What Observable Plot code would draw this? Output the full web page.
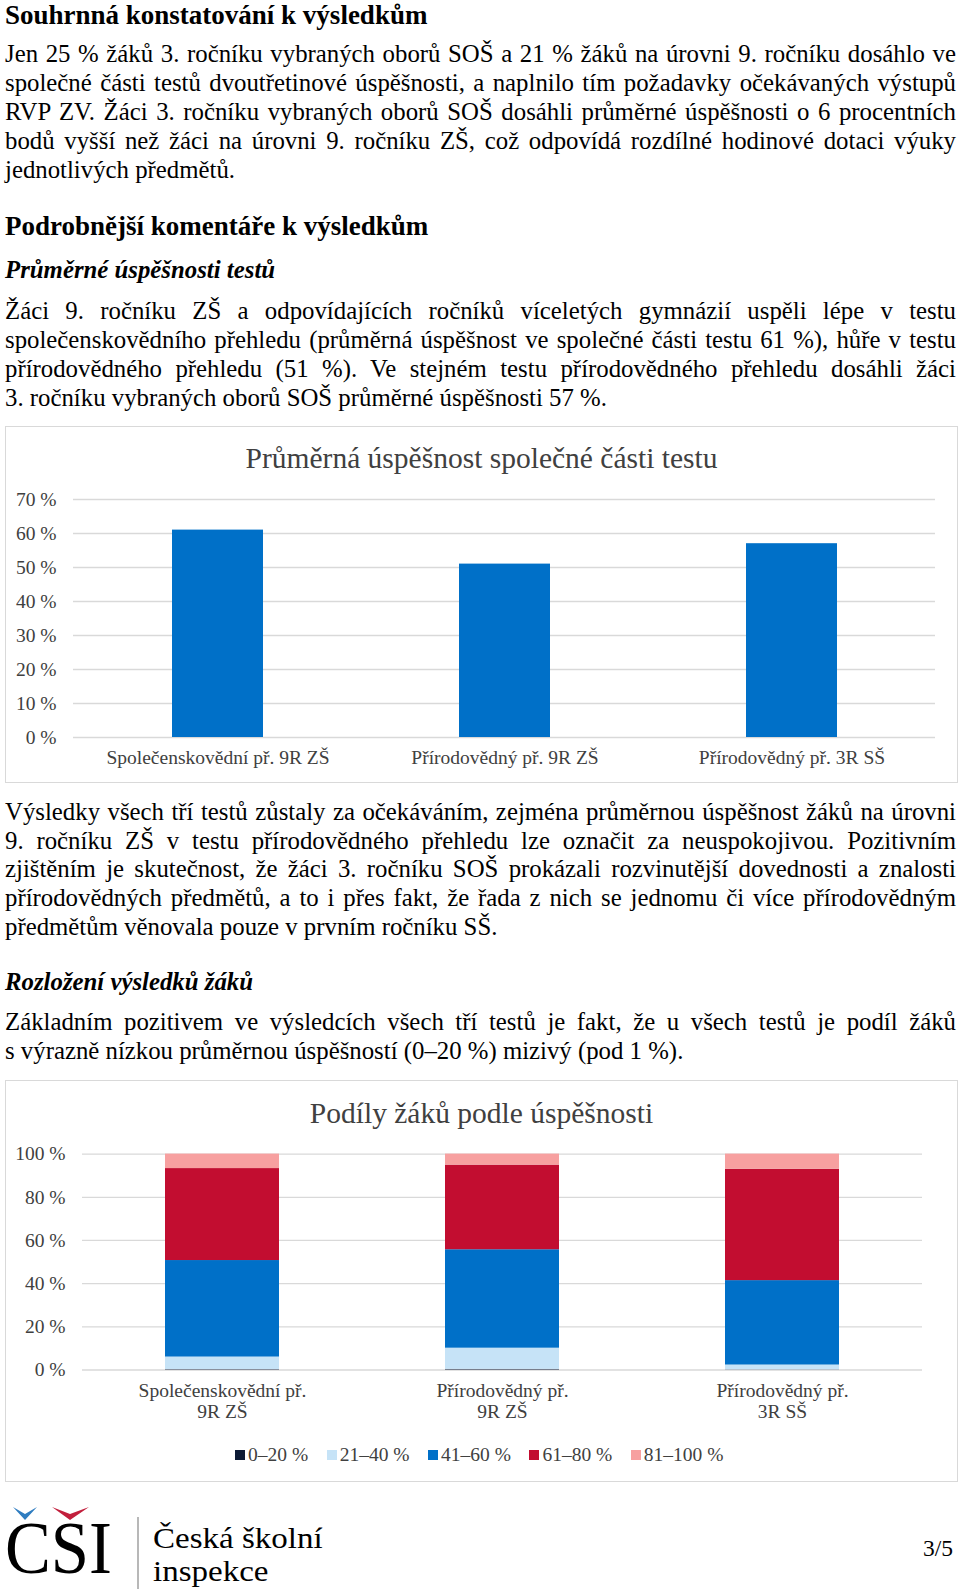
<!DOCTYPE html>
<html>
<head>
<meta charset="utf-8">
<script src="https://cdn.jsdelivr.net/npm/d3@7"></script>
<script src="https://cdn.jsdelivr.net/npm/@observablehq/plot@0.6"></script>
<style>
  html, body { margin: 0; padding: 0; background: #fff; }
  #page { position: relative; width: 960px; height: 1589px; overflow: hidden; font-family: "Liberation Serif", "Times New Roman", serif; color: #000; }
  .ln { position: absolute; white-space: nowrap; }
  .just { text-align: justify; text-align-last: justify; white-space: normal; }
  .box { position: absolute; border: 1px solid #d9d9d9; box-sizing: border-box; }
  .ctitle { position: absolute; left: 0; right: 0; text-align: center; font-size: 29.5px; color: #404040; }
  .plot { position: absolute; }
  .legend { position: absolute; display: flex; align-items: center; font-size: 19.5px; color: #404040; }
  .legend .it { display: flex; align-items: center; margin-right: 18.5px; }
  .legend .sw { width: 10px; height: 10px; margin-right: 3px; }
  .inst { position: absolute; left: 153px; top: 1521px; font-size: 30px; line-height: 33.4px; white-space: nowrap; transform: scaleX(1.1); transform-origin: 0 0; }
</style>
</head>
<body>
<div id="page"></div>
<script>
// ---------- DATA ----------
const cats1 = ["Společenskovědní př. 9R ZŠ", "Přírodovědný př. 9R ZŠ", "Přírodovědný př. 3R SŠ"];
const avgSuccess = [61, 51, 57];
const yTicks1 = [0, 10, 20, 30, 40, 50, 60, 70];

const cats2 = ["Společenskovědní př.\n9R ZŠ", "Přírodovědný př.\n9R ZŠ", "Přírodovědný př.\n3R SŠ"];
const bands = ["0–20 %", "21–40 %", "41–60 %", "61–80 %", "81–100 %"];
const bandColors = ["#0d1b36", "#c6e3f7", "#0070c8", "#c20d30", "#f7a0a0"];
const share0_20   = [0.2, 0.3, 0.1];
const share21_40  = [5.8, 9.8, 2.2];
const share41_60  = [44.7, 45.6, 39.1];
const share61_80  = [42.6, 39.2, 51.6];
const share81_100 = [6.7, 5.1, 7.0];
const yTicks2 = [0, 20, 40, 60, 80, 100];

// ---------- TEXT ----------
const page = document.getElementById("page");
function place(txt, base, o = {}) {
  const size = o.size || 24.8;
  const L = size * (o.lh || 1.2);
  const top = base - ((L - 1.107 * size) / 2 + 0.891 * size);
  const d = document.createElement("div");
  d.className = "ln" + (o.justify ? " just" : "");
  d.style.left = (o.left ?? 5) + "px";
  d.style.top = top + "px";
  d.style.fontSize = size + "px";
  d.style.lineHeight = L + "px";
  if (o.justify) d.style.width = (o.width || 951) + "px";
  if (o.weight) d.style.fontWeight = o.weight;
  if (o.italic) d.style.fontStyle = "italic";
  if (o.color) d.style.color = o.color;
  d.textContent = txt;
  page.appendChild(d);
  return d;
}
function para(lines, base0, step) {
  lines.forEach((t, i) => place(t, base0 + i * step, { justify: i < lines.length - 1 }));
}

place("Souhrnná konstatování k výsledkům", 24.5, { size: 27, weight: "bold", lh: 0.9 });
para([
  "Jen 25 % žáků 3. ročníku vybraných oborů SOŠ a 21 % žáků na úrovni 9. ročníku dosáhlo ve",
  "společné části testů dvoutřetinové úspěšnosti, a naplnilo tím požadavky očekávaných výstupů",
  "RVP ZV. Žáci 3. ročníku vybraných oborů SOŠ dosáhli průměrné úspěšnosti o 6 procentních",
  "bodů vyšší než žáci na úrovni 9. ročníku ZŠ, což odpovídá rozdílné hodinové dotaci výuky",
  "jednotlivých předmětů."
], 62.5, 29);
place("Podrobnější komentáře k výsledkům", 235, { size: 27, weight: "bold" });
place("Průměrné úspěšnosti testů", 278, { size: 24.8, weight: "bold", italic: true });
para([
  "Žáci 9. ročníku ZŠ a odpovídajících ročníků víceletých gymnázií uspěli lépe v testu",
  "společenskovědního přehledu (průměrná úspěšnost ve společné části testu 61 %), hůře v testu",
  "přírodovědného přehledu (51 %). Ve stejném testu přírodovědného přehledu dosáhli žáci",
  "3. ročníku vybraných oborů SOŠ průměrné úspěšnosti 57 %."
], 319, 29);
para([
  "Výsledky všech tří testů zůstaly za očekáváním, zejména průměrnou úspěšnost žáků na úrovni",
  "9. ročníku ZŠ v testu přírodovědného přehledu lze označit za neuspokojivou. Pozitivním",
  "zjištěním je skutečnost, že žáci 3. ročníku SOŠ prokázali rozvinutější dovednosti a znalosti",
  "přírodovědných předmětů, a to i přes fakt, že řada z nich se jednomu či více přírodovědným",
  "předmětům věnovala pouze v prvním ročníku SŠ."
], 820, 28.8);
place("Rozložení výsledků žáků", 990, { size: 24.8, weight: "bold", italic: true });
para([
  "Základním pozitivem ve výsledcích všech tří testů je fakt, že u všech testů je podíl žáků",
  "s výrazně nízkou průměrnou úspěšností (0–20 %) mizivý (pod 1 %)."
], 1030.5, 29);

// ---------- CHART 1 ----------
const box1 = document.createElement("div");
box1.className = "box";
Object.assign(box1.style, { left: "5px", top: "426px", width: "953px", height: "357px" });
page.appendChild(box1);
const t1 = document.createElement("div");
t1.className = "ctitle";
t1.style.top = "13px";
t1.style.lineHeight = "36px";
t1.textContent = "Průměrná úspěšnost společné části testu";
box1.appendChild(t1);

const data1 = cats1.map((c, i) => ({ cat: c, v: avgSuccess[i] }));
const plotStyle = { fontFamily: "Liberation Serif, Times New Roman, serif", fontSize: "19.5px", color: "#404040", background: "transparent", overflow: "visible" };
const p1 = Plot.plot({
  width: 953, height: 357,
  marginTop: 73, marginBottom: 46, marginLeft: 68, marginRight: 23,
  style: plotStyle,
  x: { domain: cats1, paddingInner: 0.683, paddingOuter: 0.3415, label: null },
  y: { domain: [0, 70], label: null },
  marks: [
    Plot.gridY(yTicks1, { stroke: "#d9d9d9", strokeOpacity: 1, strokeWidth: 1.3 }),
    Plot.barY(data1, { x: "cat", y: "v", fill: "#0070c8" }),
    Plot.axisY(yTicks1, { tickSize: 0, tickPadding: 17, tickFormat: d => `${d} %`, label: null }),
    Plot.axisX({ tickSize: 0, tickPadding: 13, label: null })
  ]
});
p1.classList.add("plot");
p1.style.left = "5px"; p1.style.top = "426px";
page.appendChild(p1);

// ---------- CHART 2 ----------
const box2 = document.createElement("div");
box2.className = "box";
Object.assign(box2.style, { left: "5px", top: "1080px", width: "953px", height: "402px" });
page.appendChild(box2);
const t2 = document.createElement("div");
t2.className = "ctitle";
t2.style.top = "14px";
t2.style.lineHeight = "36px";
t2.textContent = "Podíly žáků podle úspěšnosti";
box2.appendChild(t2);

const series = [share0_20, share21_40, share41_60, share61_80, share81_100];
const data2 = [];
cats2.forEach((c, i) => bands.forEach((b, j) => data2.push({ cat: c, band: b, v: series[j][i] })));
const p2 = Plot.plot({
  width: 953, height: 402,
  marginTop: 73.6, marginBottom: 112.5, marginLeft: 77, marginRight: 36,
  style: plotStyle,
  x: { domain: cats2, paddingInner: 0.593, paddingOuter: 0.2965, label: null },
  y: { domain: [0, 100], label: null },
  color: { domain: bands, range: bandColors },
  marks: [
    Plot.gridY(yTicks2, { stroke: "#d9d9d9", strokeOpacity: 1, strokeWidth: 1.3 }),
    Plot.barY(data2, { x: "cat", y: "v", fill: "band", order: bands }),
    Plot.axisY(yTicks2, { tickSize: 0, tickPadding: 17, tickFormat: d => `${d} %`, label: null }),
    Plot.axisX({ tickSize: 0, tickPadding: 12, lineHeight: 1.08, label: null })
  ]
});
p2.classList.add("plot");
p2.style.left = "5px"; p2.style.top = "1080px";
page.appendChild(p2);

const lg = document.createElement("div");
lg.className = "legend";
lg.style.left = "235px"; lg.style.top = "1443px"; lg.style.height = "24px";
bands.forEach((b, j) => {
  const it = document.createElement("div"); it.className = "it";
  const sw = document.createElement("div"); sw.className = "sw"; sw.style.background = bandColors[j];
  const tx = document.createElement("span"); tx.textContent = b;
  it.appendChild(sw); it.appendChild(tx); lg.appendChild(it);
});
page.appendChild(lg);

// ---------- FOOTER ----------
const ns = "http://www.w3.org/2000/svg";
const logo = document.createElementNS(ns, "svg");
logo.setAttribute("width", "150"); logo.setAttribute("height", "89");
logo.style.position = "absolute"; logo.style.left = "0px"; logo.style.top = "1500px";
logo.innerHTML = `
  <polygon points="13,7 25,20 37,7 25,14" fill="#2f7dc0"/>
  <polygon points="52,7 70,20 89,7 70,14" fill="#c21f3c"/>
  <text x="5" y="72.5" font-family="Liberation Serif" font-size="75" textLength="107" lengthAdjust="spacingAndGlyphs" fill="#000">CSI</text>
  <line x1="138" y1="17" x2="138" y2="89" stroke="#a0a0a0" stroke-width="1.5"/>`;
page.appendChild(logo);
const inst = document.createElement("div");
inst.className = "inst";
inst.innerHTML = "Česká školní<br>inspekce";
page.appendChild(inst);
place("3/5", 1556, { size: 23.5, left: 923 });
</script>
</body>
</html>
